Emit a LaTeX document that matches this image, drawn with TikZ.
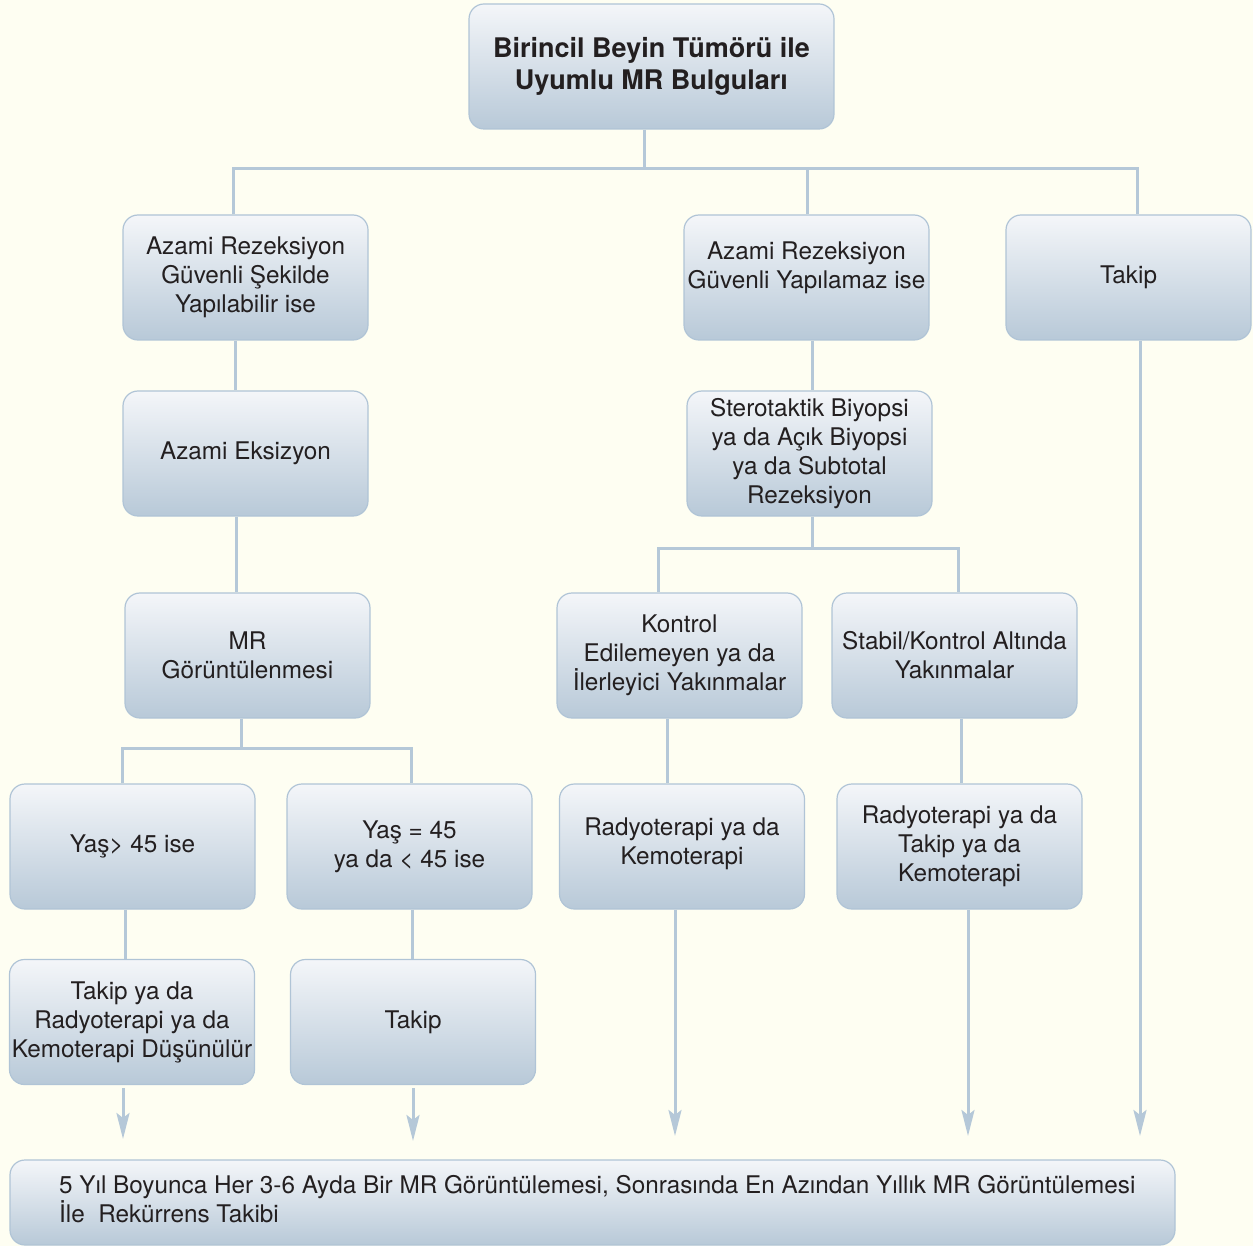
\documentclass[tikz,border=0pt]{standalone}
\usepackage{fontspec}
\setmainfont{TeX Gyre Heros}
\usetikzlibrary{arrows.meta}
\definecolor{bgcream}{RGB}{254,254,242}
\definecolor{boxtop}{RGB}{244,246,249}
\definecolor{boxbot}{RGB}{184,201,216}
\definecolor{boxedge}{RGB}{176,196,214}
\definecolor{linecol}{RGB}{181,200,216}
\definecolor{txt}{RGB}{35,31,32}
\tikzset{
  box/.style={rounded corners=15pt, draw=boxedge, line width=1.2pt,
    top color=boxtop, bottom color=boxbot, minimum width=245pt, minimum height=125pt,
    inner sep=0pt, align=center, text=txt, font=\fontsize{24.3}{29}\selectfont},
  conn/.style={draw=linecol, line width=3pt},
  arr/.style={conn, -{Stealth[length=26pt,width=13pt,inset=5pt]}}
}
\begin{document}
\begin{tikzpicture}[x=1pt,y=-1pt]
\fill[bgcream] (0,0) rectangle (1253,1246);
\useasboundingbox (0,0) rectangle (1253,1246);
% nodes
\node[box, minimum width=365pt, font=\bfseries\fontsize{27}{32}\selectfont] (t) at (651.5,66.5) {Birincil Beyin Tümörü ile\\Uyumlu MR Bulguları};
\node[box] (a1) at (245.5,277.5) {Azami Rezeksiyon\\Güvenli Şekilde\\Yapılabilir ise};
\node[box] (a2) at (806.5,277.5) {};
\node[align=center, text=txt, font=\fontsize{24.3}{29}\selectfont, inner sep=0pt] (a2t) at (806.5,268) {Azami Rezeksiyon\\Güvenli Yapılamaz ise};
\node[box] (a3) at (1128.5,277.5) {Takip};
\node[box] (a4) at (245.5,453.5) {Azami Eksizyon};
\node[box] (a5) at (247.5,655.5) {MR\\Görüntülenmesi};
\node[box] (b1) at (132.5,846.5) {Yaş> 45 ise};
\node[box] (b2) at (409.5,846.5) {Yaş = 45\\ya da < 45 ise};
\node[box] (b3) at (132,1022) {Takip ya da\\Radyoterapi ya da\\Kemoterapi Düşünülür};
\node[box] (b4) at (413,1022) {Takip};
\node[box] (c1) at (809.5,453.5) {Sterotaktik Biyopsi\\ya da Açık Biyopsi\\ya da Subtotal\\Rezeksiyon};
\node[box] (c2) at (679.5,655.5) {Kontrol\\Edilemeyen ya da\\İlerleyici Yakınmalar};
\node[box] (c3) at (954.5,655.5) {Stabil/Kontrol Altında\\Yakınmalar};
\node[box] (c4) at (682,846.5) {};
\node[align=center, text=txt, font=\fontsize{24.3}{29}\selectfont, inner sep=0pt] (c4t) at (682,844) {Radyoterapi ya da\\Kemoterapi};
\node[box] (c5) at (959.5,846.5) {Radyoterapi ya da\\Takip ya da\\Kemoterapi};
\node[box, minimum width=1165pt, minimum height=85pt] (f) at (592.5,1202.5) {};
\node[anchor=north west, inner sep=0pt, align=left, text=txt, font=\fontsize{24.3}{29}\selectfont] (ft) at (59,1175) {5 Yıl Boyunca Her 3-6 Ayda Bir MR Görüntülemesi, Sonrasında En Azından Yıllık MR Görüntülemesi\\İle\ \ Rekürrens Takibi};
% connectors
\coordinate (h0) at (644,169);
\draw[conn] (t.south -| h0) -- (h0);
\draw[conn] (a1.north -| 233,0) -- (233,169) -- (1137,169) -- (a3.north -| 1137,0);
\draw[conn] (807,169) -- (a2.north -| 807,0);
\draw[conn] (a1.south -| 235,0) -- (a4.north -| 235,0);
\draw[conn] (a4.south -| 236,0) -- (a5.north -| 236,0);
\draw[conn] (a5.south -| 241,0) -- (241,748);
\draw[conn] (b1.north -| 122,0) -- (122,748) -- (411,748) -- (b2.north -| 411,0);
\draw[conn] (b1.south -| 125,0) -- (b3.north -| 125,0);
\draw[conn] (b2.south -| 412,0) -- (b4.north -| 412,0);
\draw[conn] (a2.south -| 812,0) -- (c1.north -| 812,0);
\draw[conn] (c1.south -| 812,0) -- (812,548);
\draw[conn] (c2.north -| 658,0) -- (658,548) -- (958,548) -- (c3.north -| 958,0);
\draw[conn] (c2.south -| 667,0) -- (c4.north -| 667,0);
\draw[conn] (c3.south -| 961,0) -- (c5.north -| 961,0);
% arrows
\coordinate (e1) at (123,1139);
\coordinate (e2) at (413,1141);
\coordinate (e3) at (675,1136);
\coordinate (e4) at (968,1136);
\coordinate (e5) at (1140,1136);
\draw[arr] (b3.south -| e1) ++(0,3) -- (e1);
\draw[arr] (b4.south -| e2) ++(0,3) -- (e2);
\draw[arr] (c4.south -| e3) -- (e3);
\draw[arr] (c5.south -| e4) -- (e4);
\draw[arr] (a3.south -| e5) -- (e5);
\end{tikzpicture}
\end{document}
